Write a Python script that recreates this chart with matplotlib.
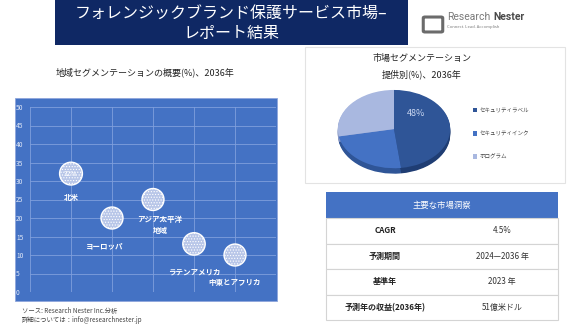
import matplotlib
matplotlib.use("Agg")
import matplotlib.pyplot as plt
from matplotlib.patches import Rectangle, FancyBboxPatch

plt.rcParams['font.family'] = ['Noto Sans CJK JP', 'DejaVu Sans']

# bubble chart data
regions = ['北米', 'ヨーロッパ', 'アジア太平洋\n地域', 'ラテンアメリカ', '中東とアフリカ']
region_x = [1, 2, 3, 4, 5]
region_share = [32, 20, 25, 13, 10]
bubble_size = [270, 250, 250, 260, 250]
label_offset = [(0, -17), (-5, -20), (5, -18), (0, -20), (0, -20)]

# pie data
offerings = ['セキュリティラベル', 'セキュリティインク', 'ホログラム']
offering_share = [48, 24, 28]
offering_colors = ['#2f5597', '#4472c4', '#a9b8e0']
side_colors = ['#1f3d73', '#2f5597', '#8596c4']

# table data
table_keys = ['CAGR', '予測期間', '基準年', '予測年の収益(2036年)']
table_vals = ['4.5%', '2024—2036 年', '2023 年', '51億米ドル']

W, H = 580, 326
fig = plt.figure(figsize=(5.8, 3.26), dpi=100)
fig.patch.set_facecolor('white')


def rect(x, y, w, h):
    # pixel box (top-left origin) -> figure fraction
    return [x / W, 1 - (y + h) / H, w / W, h / H]


def fx(x):
    return x / W


def fy(y):
    return 1 - y / H


def box(x, y, w, h, z=-5, **kw):
    p = Rectangle((fx(x), fy(y + h)), w / W, h / H, transform=fig.transFigure, zorder=z, **kw)
    fig.patches.append(p)
    return p


# title banner
box(55, 0, 353, 45, facecolor='#0f2864', edgecolor='none')
fig.text(fx(231), fy(13), 'フォレンジックブランド保護サービス市場–', color='white',
         fontsize=11.5, ha='center', va='center')
fig.text(fx(231), fy(33), 'レポート結果', color='white', fontsize=11.5, ha='center', va='center')

# logo
fig.patches.append(FancyBboxPatch((fx(425), fy(31)), fx(16), 13 / H, transform=fig.transFigure,
                                  boxstyle='round,pad=0.003', facecolor='none',
                                  edgecolor='#6b6b6b', linewidth=2.2))
t1 = fig.text(fx(447), fy(17), 'Research', color='#7a7a7a', fontsize=7.5, ha='left',
              va='center', family='Roboto')
bb = t1.get_window_extent(renderer=fig.canvas.get_renderer())
fig.text(bb.x1 / W + fx(3), fy(17), 'Nester', color='#4a4a4a', fontsize=7.5, ha='left',
         va='center', family='Roboto', weight='bold')
fig.text(fx(447), fy(27), 'Connect. Lead. Accomplish', color='#7a7a7a', fontsize=3,
         ha='left', va='center')

# bubble chart
fig.text(fx(145), fy(72), '地域セグメンテーションの概要(%)、2036年', fontsize=6.5,
         ha='center', va='center', color='#222222')
box(15, 98, 262, 203, facecolor='#4472c4', edgecolor='#8ea6dc', linewidth=0.6)
ax = fig.add_axes(rect(30, 107, 246, 185))
ax.set_facecolor('#4472c4')
ax.set_xlim(0, 6)
ax.set_ylim(0, 50)
ax.set_xticks(range(0, 7))
ax.set_yticks(range(0, 51, 5))
ax.set_xticklabels([])
ax.tick_params(axis='both', length=0, labelsize=4.8, labelcolor='#dfe7f7', pad=3)
for lab in ax.get_yticklabels():
    lab.set_horizontalalignment('left')
ax.tick_params(axis='y', pad=10)
ax.grid(True, color='#7f9fdd', linewidth=0.6)
for s in ax.spines.values():
    s.set_visible(False)
plt.rcParams['hatch.color'] = '#eef2fb'
plt.rcParams['hatch.linewidth'] = 0.5
ax.scatter(region_x, region_share, s=bubble_size, facecolor='#b8c6e8', edgecolor='white',
           linewidth=1.0, hatch='......', zorder=3)
for xv, yv, name, off in zip(region_x, region_share, regions, label_offset):
    ax.annotate(name, (xv, yv), xytext=off, textcoords='offset points', ha='center',
                va='center', fontsize=5.4, color='white', weight='bold', linespacing=1.6)
ax.annotate(f'{region_share[0]}%', (region_x[0], region_share[0]), ha='center', va='center',
            fontsize=4.8, color='white', zorder=4)

# pie chart panel
box(305, 47, 260, 136, facecolor='white', edgecolor='#e3e3e3', linewidth=0.8)
fig.text(fx(422), fy(58), '市場セグメンテーション', fontsize=6.5, ha='center', va='center',
         color='#222222')
fig.text(fx(422), fy(74), '提供別(%)、2036年', fontsize=6.5, ha='center', va='center',
         color='#222222')
pax = fig.add_axes(rect(335, 88, 118, 90))
# side of the 3d pie
for dy in [0.02 * i for i in range(1, 8)]:
    pax.pie(offering_share, colors=side_colors, startangle=90, counterclock=False,
            center=(0, -dy), radius=1.0, frame=True)
wedges, _ = pax.pie(offering_share, colors=offering_colors, startangle=90, counterclock=False,
                    radius=1.0, frame=True)
pax.text(0.4, 0.4, f'{offering_share[0]}%', color='#c9d6f0', fontsize=6.5, ha='center',
         va='center')
pax.set_xlim(-1.05, 1.05)
pax.set_ylim(-1.25, 1.05)
pax.set_aspect('auto')
pax.axis('off')
leg = fig.legend(wedges, offerings, loc='upper left', bbox_to_anchor=(fx(468), fy(103)),
                 frameon=False, fontsize=4, handlelength=0.8, handleheight=0.8,
                 labelspacing=3.2, handletextpad=0.4)
for t in leg.get_texts():
    t.set_color('#444444')

# key insights table
tx, tw = 326, 232
box(tx, 192, tw, 26, z=1, facecolor='#4472c4', edgecolor='none')
fig.text(fx(tx + tw / 2), fy(205), '主要な市場洞察', color='white', fontsize=6,
         ha='center', va='center')
row_top = 218
row_h = 25.5
for i, (k, v) in enumerate(zip(table_keys, table_vals)):
    y0 = row_top + i * row_h
    box(tx, y0, tw, row_h, z=1, facecolor='white', edgecolor='#d4d4d4', linewidth=0.8)
    fig.text(fx(385), fy(y0 + row_h / 2), k, fontsize=5.8, ha='center', va='center',
             color='#222222', weight='bold')
    fig.text(fx(502), fy(y0 + row_h / 2), v, fontsize=5.8, ha='center', va='center',
             color='#333333')

# footer
fig.text(fx(22), fy(311), 'ソース: Research Nester Inc.分析', fontsize=4.6, ha='left',
         va='center', color='#444444', style='italic')
fig.text(fx(22), fy(320), '詳細については：info@researchnester.jp', fontsize=4.6, ha='left',
         va='center', color='#444444', style='italic')

fig.savefig('out.png', dpi=100)
